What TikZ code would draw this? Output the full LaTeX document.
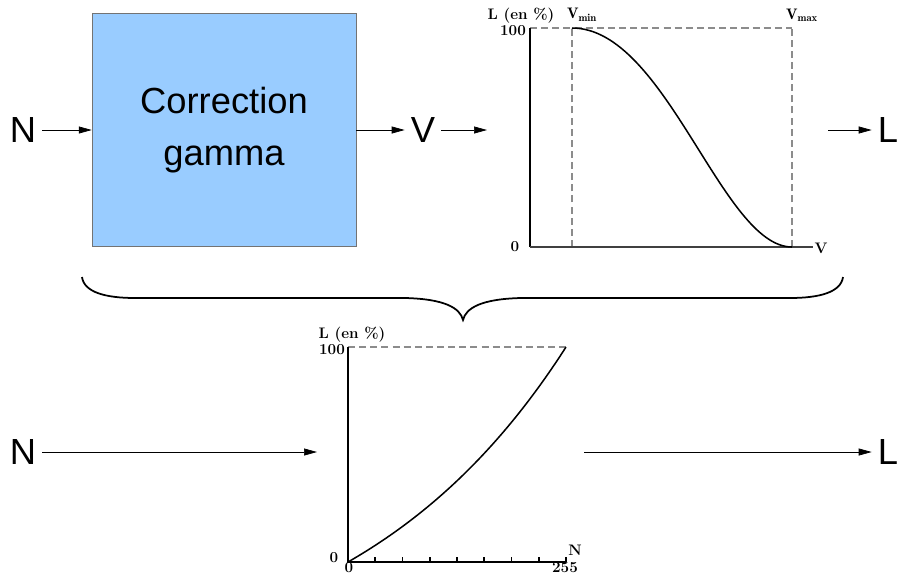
\documentclass[tikz,border=0pt]{standalone}
\usepackage{fontspec}
\newfontfamily\arialfont{Liberation Sans}
\usetikzlibrary{positioning,arrows.meta}
\definecolor{gammabg}{RGB}{153,204,255}
\definecolor{dashgray}{gray}{0.55}

\begin{document}
\begin{tikzpicture}[x=0.03cm,y=-0.03cm,>={Triangle[length=3.9mm,width=2.1mm]},
  sym/.style={font=\arialfont\fontsize{31}{45}\selectfont,inner sep=1.8mm},
  lab/.style={font=\fontsize{13}{15}\selectfont\bfseries,inner sep=0pt},
  flow/.style={->,line width=0.6pt},
  axis/.style={line width=2.5pt},
  guide/.style={dashgray,line width=2pt,dash pattern=on 6pt off 3.5pt},
  curve/.style={line width=1.3pt}]
  \useasboundingbox (0,0) rectangle (899,576);

  % top row
  \node[sym] (nin) at (23,130) {N};
  \node[draw=black!55,fill=gammabg,minimum width=7.92cm,minimum height=6.99cm,
    inner sep=0pt,align=center,font=\arialfont\fontsize{31}{45}\selectfont] (gamma) at (224,130) {Correction\\gamma};
  \node[sym] (vmid) at (423,130) {V};
  \coordinate (g1in) at (487,130);
  \coordinate (g1out) at (828,130);
  \node[sym] (lout) at (888,130) {L};
  \draw[flow] (nin) -- (gamma);
  \draw[flow] (gamma) -- (vmid);
  \draw[flow] (vmid) -- (g1in);
  \draw[flow] (g1out) -- (lout);

  % upper graph
  \draw[guide] (572,247) -- (572,28);
  \draw[guide] (792,247) -- (792,28);
  \draw[guide] (530,28) -- (792,28);
  \draw[axis] (530,28) -- (530,247);
  \draw[line width=1.8pt,black!75] (530,247) -- (813,247);
  \draw[curve] (572,28) .. controls (666,28) and (722,247) .. (792,247);
  \node[lab] (ylab1) at (521,16) {L (en \%)};
  \node[lab] (top1) at (513,31) {100};
  \node[lab] (zero1) at (515,247) {0};
  \node[lab] (vmin) at (582,15) {$\mathbf{V_{min}}$};
  \node[lab] (vmax) at (802,15) {$\mathbf{V_{max}}$};
  \node[lab] (vlab) at (821,248) {V};

  % brace
  \draw[line width=1.5pt] (82,277) .. controls (84,292) and (105,298) .. (135,298) -- (405,298)
    .. controls (445,299) and (460,308) .. (463,320) .. controls (466,308) and (481,299) .. (521,298)
    -- (790,298) .. controls (820,298) and (841,292) .. (843,277);

  % bottom row
  \node[sym] (nbot) at (23,452) {N};
  \coordinate (g2in) at (317,452);
  \coordinate (g2out) at (584,452);
  \node[sym] (lbot) at (888,452) {L};
  \draw[flow] (nbot) -- (g2in);
  \draw[flow] (g2out) -- (lbot);

  % lower graph
  \draw[guide] (348,347) -- (566,347);
  \draw[axis] (348,347) -- (348,562) -- (566,562);
  \foreach \i in {1,...,8}
    \draw[line width=1.5pt] ({348+27.25*\i},562) -- ++(0,-5);
  \draw[curve] plot[domain=0:1,samples=40,smooth] ({348+218*\x},{562-215*(exp(\x)-1)/(exp(1)-1)});
  \node[lab] (ylab2) at (352,335) {L (en \%)};
  \node[lab] (top2) at (332,350) {100};
  \node[lab] (zero2) at (334,558) {0};
  \node[lab] (nzero) at (349,567.5) {0};
  \node[lab] (nmax) at (565,567.5) {255};
  \node[lab] (nlab) at (575,550) {N};
\end{tikzpicture}
\end{document}
